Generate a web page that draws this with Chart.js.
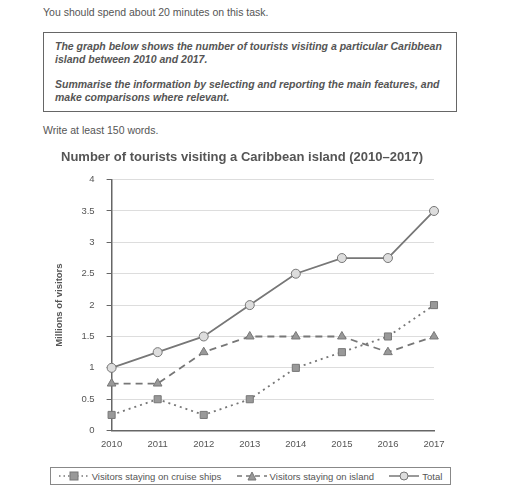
<!DOCTYPE html>
<html><head><meta charset="utf-8">
<script src="https://cdn.jsdelivr.net/npm/chart.js@4"></script>
<style>
body{margin:0;width:512px;height:496px;background:#fff;font-family:"Liberation Sans",Arial,sans-serif;color:#555;position:relative;overflow:hidden}
.t1{position:absolute;left:43px;top:6px;font-size:10.5px}
.box{position:absolute;left:43px;top:32px;width:414px;height:80px;border:1.5px solid #666;box-sizing:border-box;padding:7px 11px;font-size:10.5px;font-weight:bold;font-style:italic;line-height:12.5px}
.box p{margin:0 0 13px 0}
.t2{position:absolute;left:43px;top:124px;font-size:10.5px}
#wrap{position:absolute;left:50px;top:146px;width:410px;height:304px}
.legend{position:absolute;left:50px;top:467px;width:401px;height:18px;border:1px solid #888;box-sizing:border-box;font-size:9.5px;display:flex;align-items:center;justify-content:space-around}
.legend span{display:flex;align-items:center;gap:3px}
</style></head><body>
<div class="t1">You should spend about 20 minutes on this task.</div>
<div class="box"><p>The graph below shows the number of tourists visiting a particular Caribbean island between 2010 and 2017.</p><p>Summarise the information by selecting and reporting the main features, and make comparisons where relevant.</p></div>
<div class="t2">Write at least 150 words.</div>
<div id="wrap"><canvas id="c"></canvas></div>
<div class="legend">
<span><svg width="30" height="10"><line x1="0" y1="5" x2="30" y2="5" stroke="#777" stroke-width="1.5" stroke-dasharray="1.5,3"/><rect x="11" y="1" width="8" height="8" fill="#999" stroke="#777"/></svg>Visitors staying on cruise ships</span>
<span><svg width="30" height="10"><line x1="0" y1="5" x2="30" y2="5" stroke="#777" stroke-width="1.5" stroke-dasharray="5,4"/><polygon points="15,1 19,9 11,9" fill="#999" stroke="#777"/></svg>Visitors staying on island</span>
<span><svg width="30" height="10"><line x1="0" y1="5" x2="30" y2="5" stroke="#777" stroke-width="1.5"/><circle cx="15" cy="5" r="4" fill="#ddd" stroke="#777"/></svg>Total</span>
</div>
<script>
const years = ["2010","2011","2012","2013","2014","2015","2016","2017"];
const cruiseShips = [0.25,0.5,0.25,0.5,1,1.25,1.5,2];
const onIsland = [0.75,0.75,1.25,1.5,1.5,1.5,1.25,1.5];
const total = [1,1.25,1.5,2,2.5,2.75,2.75,3.5];

const common = {borderColor:"#777",borderWidth:1.8,pointBorderColor:"#777",pointRadius:5,pointBorderWidth:1};
new Chart(document.getElementById("c"), {
  type: 'line',
  data: {
    labels: years,
    datasets: [
      {...common,label:"Visitors staying on cruise ships",data:cruiseShips,borderDash:[2,4],pointStyle:'rect',pointBackgroundColor:"#999"},
      {...common,label:"Visitors staying on island",data:onIsland,borderDash:[7,5],pointStyle:'triangle',pointBackgroundColor:"#999"},
      {...common,label:"Total",data:total,pointStyle:'circle',pointRadius:4.5,pointBackgroundColor:"#ddd"}
    ]
  },
  options: {
    responsive:true,maintainAspectRatio:false,animation:false,
    layout:{padding:{left:0,right:26,top:0,bottom:0}},
    plugins:{legend:{display:false},tooltip:{enabled:false},
      title:{display:true,text:"Number of tourists visiting a Caribbean island (2010–2017)",color:"#555",
        font:{family:"Liberation Sans",size:13,weight:'bold'},padding:{top:4,bottom:14}}},
    scales:{
      x:{offset:false,grid:{display:false},border:{color:"#666",width:1.5},
        ticks:{color:"#555",font:{size:9.5},padding:0}},
      y:{min:0,max:4,border:{color:"#666",width:1.5},
        ticks:{stepSize:0.5,color:"#555",font:{size:9.5},padding:12,callback:v=>String(v)},
        grid:{color:"#ddd",tickColor:"#666",tickLength:5},
        title:{display:true,text:"Millions of visitors",color:"#555",font:{size:9.5,weight:'bold'},padding:{bottom:4}}}
    }
  }
});
</script>
</body></html>
